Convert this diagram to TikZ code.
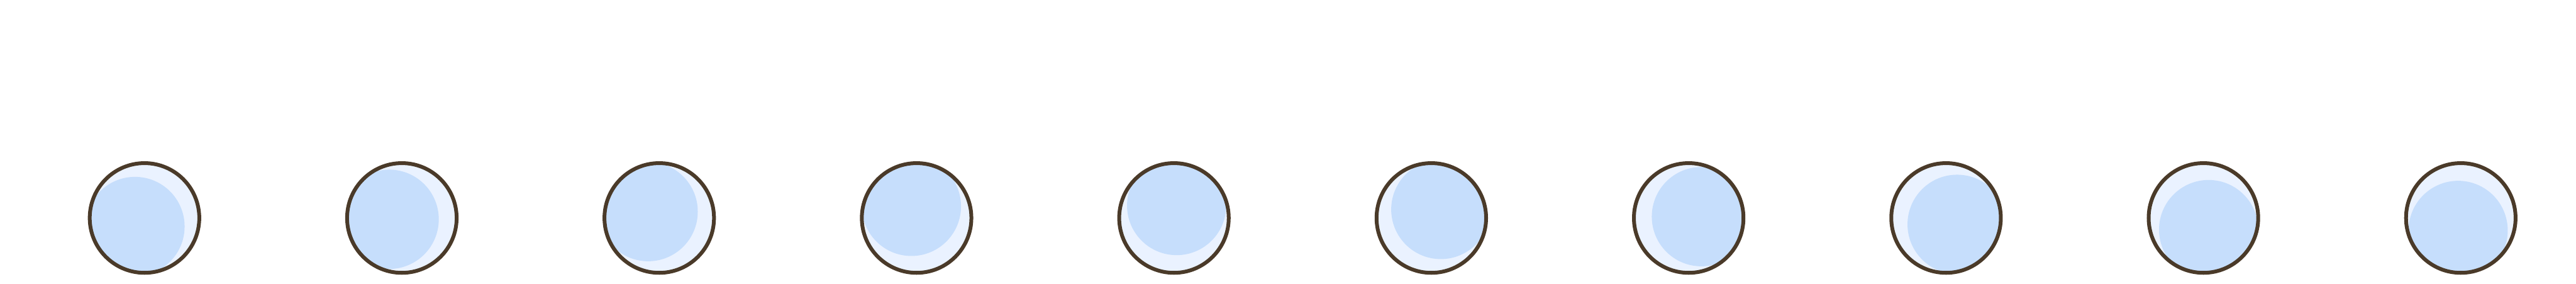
\documentclass[tikz,border=0pt]{standalone}
\definecolor{ringline}{HTML}{4A3A29}
\definecolor{paleblue}{HTML}{EAF2FF}
\definecolor{coreblue}{HTML}{C6DEFC}
\begin{document}
\begin{tikzpicture}[
  dot/.style={circle, draw=ringline, line width=0.08cm, fill=paleblue,
    minimum size=2.32cm, inner sep=0pt, outer sep=0pt}
]
\fill[white] (0,0) rectangle (54.55,6);
\useasboundingbox (0,0) rectangle (54.55,6);
\foreach \i in {0,...,9} {
  \pgfmathsetmacro\ang{222-36*\i}
  \node[dot, path picture={
      \fill[coreblue] ([shift={(\ang:0.27)}]path picture bounding box.center) circle (1.05);
    }] (c\i) at ({3.06+5.45*\i}, 1.39) {};
}
\end{tikzpicture}
\end{document}
